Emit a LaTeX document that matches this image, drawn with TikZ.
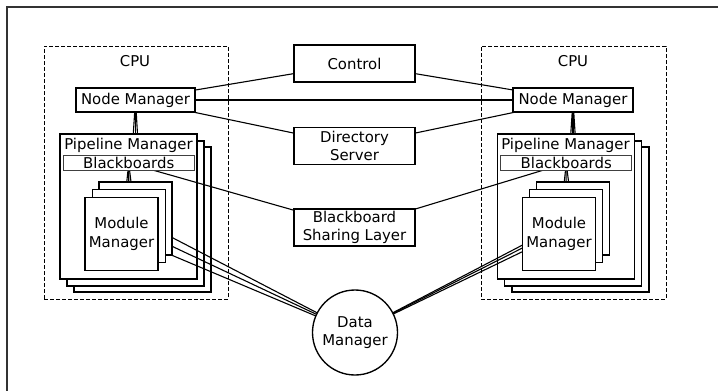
\documentclass[tikz,border=0pt]{standalone}
\usepackage{fontspec}
\setmainfont{DejaVu Sans}
\pgfdeclarelayer{back}
\pgfdeclarelayer{pmlayer}
\pgfdeclarelayer{mid}
\pgfsetlayers{back,pmlayer,mid,main}
\tikzset{
 txt/.style={font=\fontsize{14.9}{18.7}\selectfont, align=center, inner sep=0pt},
 box/.style={draw, fill=white, line width=1.35pt, inner sep=0pt, txt},
 nmbox/.style={box, line width=1.9pt, minimum width=119pt, minimum height=24pt},
 midbox/.style={box, minimum width=121pt, minimum height=37pt},
 pmbox/.style={box, minimum width=137pt, minimum height=145pt},
 mmbox/.style={box, minimum width=73pt, minimum height=73pt},
 bbbox/.style={box, line width=1pt, draw=black!75, minimum width=131pt, minimum height=15pt},
 cpubox/.style={draw, dash pattern=on 4pt off 2pt, line width=1pt, minimum width=184pt, minimum height=253pt, inner sep=0pt},
 dmcircle/.style={box, circle, minimum size=85pt},
 conn/.style={line width=1.1pt},
}
\begin{document}
\begin{tikzpicture}[x=1pt,y=-1pt]
\useasboundingbox (0,0) rectangle (718,391);
\coordinate (fBL) at (7,391);
\coordinate (fTL) at (7,7);
\coordinate (fTR) at (718,7);
\draw[line width=1.2pt, black!80] (fBL) -- (fTL) -- (fTR);

% CPU boxes
\node[cpubox] (cpuL) at (136,172.5) {};
\node[cpubox, minimum width=185pt] (cpuR) at (573.5,172.5) {};
\node[txt] (cpuLt) at (135,61) {CPU};
\node[txt] (cpuRt) at (573,61) {CPU};

% pipeline manager stacks
\begin{pgfonlayer}{pmlayer}
\node[pmbox] (pmL3) at (142.5,219.5) {};
\node[pmbox] (pmL2) at (135.5,213.5) {};
\node[pmbox] (pmL1) at (128.5,206.5) {};
\node[pmbox] (pmR3) at (580.5,219.5) {};
\node[pmbox] (pmR2) at (573,213.5) {};
\node[pmbox] (pmR1) at (566,206.5) {};
\end{pgfonlayer}

\node[txt] (pmLt) at (128.5,145) {Pipeline Manager};
\node[txt] (pmRt) at (565.5,145) {Pipeline Manager};
\node[bbbox] (bbL) at (128.7,163.2) {Blackboards};
\node[bbbox] (bbR) at (566.2,163.2) {Blackboards};

% module manager stacks
\node[mmbox] (mmL3) at (135.5,218.5) {};
\node[mmbox] (mmL2) at (129,226) {};
\node[mmbox] (mmL1) at (121.5,234) {Module\\Manager};
\node[mmbox] (mmR3) at (573.3,218.5) {};
\node[mmbox] (mmR2) at (566,226) {};
\node[mmbox] (mmR1) at (559,234) {Module\\Manager};

% node managers
\node[nmbox] (nmL) at (135.5,100) {Node Manager};
\node[nmbox, minimum width=120pt] (nmR) at (573,100) {Node Manager};

% central services
\node[midbox] (ctrl) at (354.5,63.5) {Control};
\node[midbox] (ds) at (354.5,145.8) {Directory\\Server};
\node[midbox] (bsl) at (354.5,227.5) {Blackboard\\Sharing Layer};
\node[dmcircle] (dm) at (355,332.5) {Data\\Manager};

\begin{pgfonlayer}{back}
\draw[conn] (nmL.center) -- (pmL1.center);
\draw[conn] (nmL.center) -- (pmL2.center);
\draw[conn] (nmL.center) -- (pmL3.center);
\draw[conn] (nmR.center) -- (pmR1.center);
\draw[conn] (nmR.center) -- (pmR2.center);
\draw[conn] (nmR.center) -- (pmR3.center);
\draw[conn] (nmL.center) -- (ctrl.center) -- (nmR.center);
\draw[conn] (nmL.center) -- (nmR.center);
\draw[conn] (nmL.center) -- (ds.center) -- (nmR.center);
\end{pgfonlayer}

\begin{pgfonlayer}{mid}
\draw[conn] (bbL.center) -- (mmL1.center);
\draw[conn] (bbL.center) -- (mmL2.center);
\draw[conn] (bbL.center) -- (mmL3.center);
\draw[conn] (bbR.center) -- (mmR1.center);
\draw[conn] (bbR.center) -- (mmR2.center);
\draw[conn] (bbR.center) -- (mmR3.center);
\draw[conn] (bbL.center) -- (bsl.center) -- (bbR.center);
\draw[conn] (mmL1.center) -- (dm.center);
\draw[conn] (mmL2.center) -- (dm.center);
\draw[conn] (mmL3.center) -- (dm.center);
\draw[conn] (mmR1.center) -- (dm.center);
\draw[conn] (mmR2.center) -- (dm.center);
\draw[conn] (mmR3.center) -- (dm.center);
\end{pgfonlayer}
\end{tikzpicture}
\end{document}
